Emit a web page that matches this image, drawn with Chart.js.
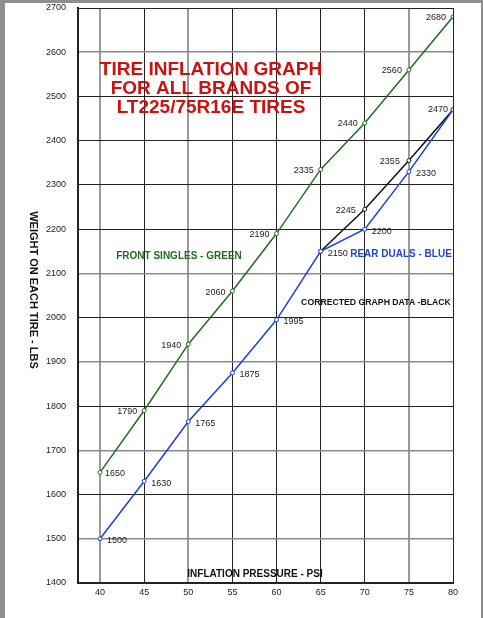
<!DOCTYPE html>
<html>
<head>
<meta charset="utf-8">
<script src="https://cdn.jsdelivr.net/npm/chart.js@4/dist/chart.umd.min.js"></script>
<style>
    html, body { margin:0; padding:0; background:#8f8f8f; }
    #tire_chart { position:absolute; left:0; top:0; }
</style>
</head>
<body>
<canvas id="tire_chart" width="483" height="618"></canvas>
<script>
const psi = [40, 45, 50, 55, 60, 65, 70, 75, 80];
const frontSingles = [1650, 1790, 1940, 2060, 2190, 2335, 2440, 2560, 2680];
const rearDuals = [1500, 1630, 1765, 1875, 1995, 2150, 2200, 2330, 2470];
const corrected = [null, null, null, null, null, 2150, 2245, 2355, 2470];
const grayPsi = [40, 50, 75];
const grayWeights = [1500, 1700, 1900, 2100, 2600];

const FONT = '"Liberation Sans", Arial, Helvetica, sans-serif';

function toPoints(values){
    return psi.map((p, i) => ({x:p, y:values[i]})).filter(pt => pt.y !== null);
}

// white page on the grey scan border
const pageBg = {
    id:"pageBg",
    beforeDraw(chart){
        const ctx = chart.ctx;
        ctx.save();
        ctx.fillStyle = "#ffffff";
        ctx.fillRect(5, 3, 476, 615);
        ctx.restore();
    }
};

// numbers written beside each point
const pointLabels = {
    id:"pointLabels",
    afterDatasetsDraw(chart){
        const ctx = chart.ctx;
        ctx.save();
        ctx.font = "9px " + FONT;
        ctx.fillStyle = "#222";
        ctx.textBaseline = "middle";
        chart.data.datasets.forEach((ds, di) => {
            const meta = chart.getDatasetMeta(di);
            const n = ds.data.length;
            meta.data.forEach((pt, i) => {
                const txt = String(ds.data[i].y);
                let side = "left", dx = 7, dy = 1;
                if (ds.key === "front" && i === 0) { side = "right"; dx = 5; }
                if (ds.key === "rear") { side = "right"; dx = 7; dy = 2; }
                if (ds.key === "rear" && i === n - 1) { side = "left"; dx = 5; dy = 0; }
                if (ds.key === "fixed") {
                    if (i === 0 || i === n - 1) return;
                    dx = 9;
                }
                if (side === "left") {
                    ctx.textAlign = "right";
                    ctx.fillText(txt, pt.x - dx, pt.y + dy);
                } else {
                    ctx.textAlign = "left";
                    ctx.fillText(txt, pt.x + dx, pt.y + dy);
                }
            });
        });
        ctx.restore();
    }
};

// titles and notes drawn on the grid
const notes = {
    id:"notes",
    afterDraw(chart){
        const ctx = chart.ctx;
        ctx.save();
        ctx.textAlign = "center";
        ctx.textBaseline = "middle";

        ctx.fillStyle = "#cc1111";
        ctx.font = "bold 19px " + FONT;
        ctx.fillText("TIRE INFLATION GRAPH", 211, 70);
        ctx.fillText("FOR ALL BRANDS OF", 211, 89);
        ctx.fillText("LT225/75R16E TIRES", 211, 108);

        ctx.font = "bold 10px " + FONT;
        ctx.fillStyle = "#1f6e1f";
        ctx.fillText("FRONT SINGLES - GREEN", 179, 256);
        ctx.fillStyle = "#2244d6";
        ctx.fillText("REAR DUALS - BLUE", 401, 254);
        ctx.fillStyle = "#111";
        ctx.fillText("INFLATION PRESSURE - PSI", 255, 574);
        ctx.font = "bold 8.7px " + FONT;
        ctx.fillText("CORRECTED GRAPH DATA -BLACK", 376, 303);

        ctx.font = "bold 11px " + FONT;
        ctx.translate(33, 290);
        ctx.rotate(Math.PI / 2);
        ctx.fillText("WEIGHT ON EACH TIRE - LBS", 0, 0);
        ctx.restore();
    }
};

function noOverhang(scale){
    scale.paddingTop = 0;
    scale.paddingBottom = 0;
    scale.paddingLeft = 0;
    scale.paddingRight = 0;
}

let ctx1 = document.getElementById("tire_chart");
let tire_chart = new Chart(ctx1, {
    type:"line",
    plugins:[pageBg, pointLabels, notes],
    data:{
        datasets:[
            {
                key:"front",
                label:"Front singles",
                data:toPoints(frontSingles),
                borderColor:"#1f6e1f",
                backgroundColor:"#ffffff",
                pointBorderColor:"#1f6e1f"
            },
            {
                key:"rear",
                label:"Rear duals",
                data:toPoints(rearDuals),
                borderColor:"#1a3fe0",
                backgroundColor:"#ffffff",
                pointBorderColor:"#1a3fe0"
            },
            {
                key:"fixed",
                label:"Corrected",
                data:toPoints(corrected),
                borderColor:"#111111",
                backgroundColor:"#ffffff",
                pointBorderColor:"#111111"
            }
        ]
    },
    options:{
        responsive:false,
        animation:false,
        layout:{ padding:{ left:0, top:8, right:30, bottom:0 } },
        elements:{
            line:{ borderWidth:1.5, tension:0 },
            point:{ radius:2, borderWidth:1, hoverRadius:2 }
        },
        plugins:{
            legend:{ display:false },
            tooltip:{ enabled:false }
        },
        scales:{
            x:{
                type:"linear",
                min:37.5,
                max:80,
                afterBuildTicks(scale){ scale.ticks = psi.map(v => ({value:v})); },
                afterFit(scale){ scale.height = 35; noOverhang(scale); },
                border:{ color:"#222", width:2 },
                grid:{
                    drawTicks:false,
                    color:c => grayPsi.includes(c.tick && c.tick.value) ? "#9a9a9a" : "#222",
                    lineWidth:c => grayPsi.includes(c.tick && c.tick.value) ? 2 : 1
                },
                ticks:{
                    padding:4,
                    color:"#222",
                    font:{ family:FONT, size:9 }
                }
            },
            y:{
                min:1400,
                max:2700,
                afterFit(scale){ scale.width = 78; noOverhang(scale); },
                border:{ color:"#222", width:2 },
                grid:{
                    drawTicks:false,
                    color:c => grayWeights.includes(c.tick && c.tick.value) ? "#8a8a8a" : "#222",
                    lineWidth:c => grayWeights.includes(c.tick && c.tick.value) ? 1.5 : 1
                },
                ticks:{
                    stepSize:100,
                    padding:12,
                    color:"#222",
                    font:{ family:FONT, size:9 },
                    callback:v => String(v)
                }
            }
        }
    }
});
</script>
</body>
</html>
